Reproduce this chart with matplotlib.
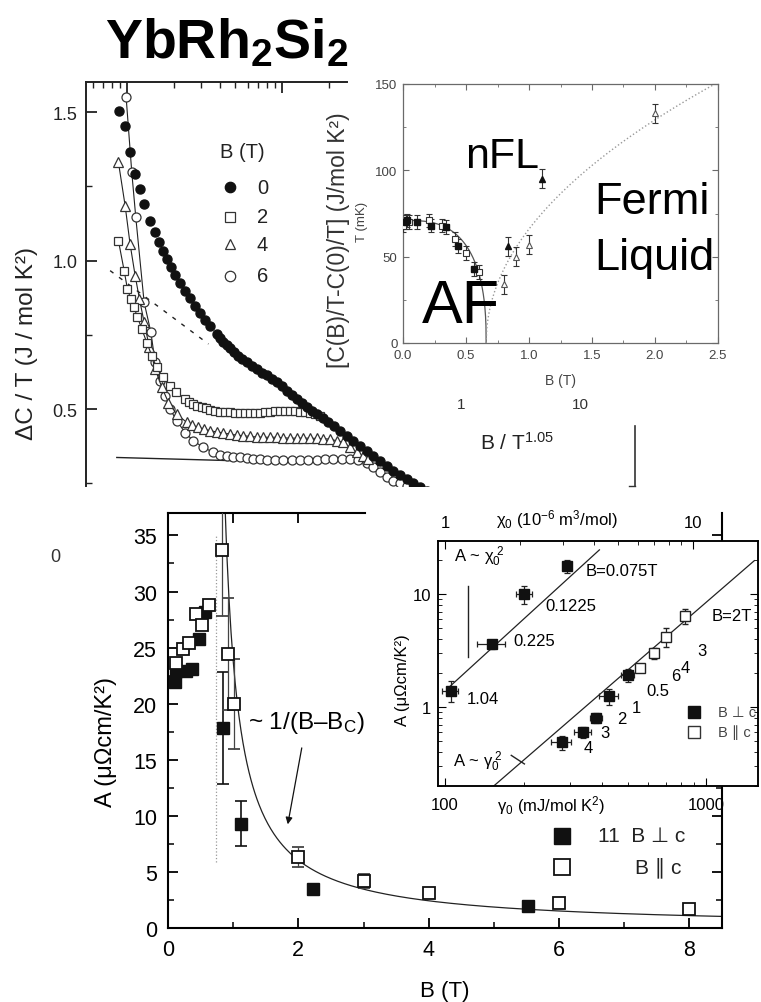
import numpy as np
import matplotlib
matplotlib.use('Agg')
import matplotlib.pyplot as plt
from matplotlib.lines import Line2D
from matplotlib.ticker import FixedLocator, MultipleLocator, NullFormatter, LogLocator

plt.rcParams['font.family'] = ['Liberation Sans', 'DejaVu Sans']
plt.rcParams['mathtext.fontset'] = 'custom'
plt.rcParams['mathtext.rm'] = 'Liberation Sans'
plt.rcParams['mathtext.it'] = 'Liberation Sans:italic'
plt.rcParams['mathtext.bf'] = 'Liberation Sans:bold'
plt.rcParams['axes.unicode_minus'] = False

# ---------------- specific heat: Delta C / T vs T (K), fields 0, 2, 4, 6 T ----------------
T_b0 = [0.0888, 0.0971, 0.1045, 0.1127, 0.1213, 0.1288, 0.1407, 0.1516, 0.1618, 0.1716,
        0.1803, 0.1914, 0.2042, 0.2198, 0.2366, 0.2548, 0.2745, 0.2956, 0.3184, 0.3429,
        0.3790, 0.398, 0.4188, 0.4395, 0.4628, 0.490, 0.5230, 0.5547, 0.5912, 0.637,
        0.6867, 0.739, 0.7966, 0.858, 0.9243, 0.995, 1.072, 1.154, 1.244, 1.339,
        1.443, 1.554, 1.674, 1.829, 1.991, 2.176, 2.367, 2.614, 2.885, 3.185,
        3.518, 3.884, 4.288, 4.735, 5.227, 5.771, 6.372, 7.037, 7.768, 8.577]
C_b0 = [1.504, 1.454, 1.366, 1.291, 1.241, 1.190, 1.134, 1.095, 1.061, 1.033,
        1.005, 0.977, 0.951, 0.924, 0.898, 0.873, 0.848, 0.823, 0.801, 0.781,
        0.753, 0.740, 0.727, 0.715, 0.704, 0.691, 0.680, 0.668, 0.657, 0.646,
        0.635, 0.623, 0.613, 0.601, 0.590, 0.576, 0.562, 0.547, 0.534, 0.520,
        0.506, 0.494, 0.483, 0.469, 0.455, 0.442, 0.427, 0.410, 0.393, 0.377,
        0.360, 0.343, 0.326, 0.309, 0.292, 0.278, 0.264, 0.251, 0.236, 0.225]

T_b2 = [0.0879, 0.0957, 0.1005, 0.1057, 0.1109, 0.1167, 0.1245, 0.1340, 0.1442, 0.1552,
        0.1714, 0.1892, 0.2080, 0.2366, 0.2512, 0.2679, 0.2843, 0.3034, 0.3218, 0.3428,
        0.3695, 0.3981, 0.4287, 0.4624, 0.4974, 0.5358, 0.5771, 0.6223, 0.6695, 0.7211,
        0.7767, 0.8375, 0.9013, 0.9705, 1.0457, 1.127, 1.2132, 1.306, 1.4075, 1.517,
        1.6329, 1.758]
C_b2 = [1.067, 0.966, 0.904, 0.870, 0.842, 0.809, 0.769, 0.724, 0.680, 0.640,
        0.607, 0.579, 0.556, 0.534, 0.525, 0.517, 0.511, 0.506, 0.502, 0.498,
        0.494, 0.491, 0.490, 0.489, 0.488, 0.487, 0.487, 0.487, 0.487, 0.487,
        0.489, 0.491, 0.493, 0.494, 0.494, 0.494, 0.493, 0.491, 0.489, 0.487,
        0.482, 0.475]

T_b4 = [0.0879, 0.0971, 0.1045, 0.1127, 0.1202, 0.1288, 0.1393, 0.1517, 0.1675, 0.1849,
        0.2089, 0.2427, 0.2639, 0.2884, 0.3139, 0.3428, 0.3789, 0.4188, 0.4619, 0.5105,
        0.5628, 0.6223, 0.6864, 0.7586, 0.8367, 0.9247, 1.020, 1.127, 1.243, 1.374,
        1.516, 1.675, 1.848, 2.042, 2.253, 2.489, 2.746, 3.034, 3.314, 3.606]
C_b4 = [1.331, 1.185, 1.056, 0.949, 0.870, 0.792, 0.708, 0.635, 0.573, 0.522,
        0.483, 0.455, 0.446, 0.438, 0.433, 0.427, 0.423, 0.419, 0.416, 0.412,
        0.410, 0.408, 0.406, 0.405, 0.405, 0.405, 0.403, 0.402, 0.402, 0.402,
        0.402, 0.401, 0.400, 0.399, 0.393, 0.388, 0.371, 0.354, 0.343, 0.332]

T_b6 = [0.0986, 0.1072, 0.1138, 0.1288, 0.1422, 0.1517, 0.1633, 0.1758, 0.1892, 0.2089,
        0.2366, 0.2679, 0.3105, 0.3606, 0.3981, 0.4395, 0.4853, 0.5358, 0.5916, 0.6531,
        0.7212, 0.7962, 0.9013, 1.021, 1.154, 1.306, 1.479, 1.675, 1.894, 2.143,
        2.426, 2.748, 3.108, 3.516, 3.884, 4.285, 4.735, 5.224, 5.771, 6.368,
        7.037, 7.762]
C_b6 = [1.549, 1.297, 1.145, 0.859, 0.760, 0.657, 0.595, 0.545, 0.500, 0.461,
        0.421, 0.393, 0.371, 0.354, 0.347, 0.343, 0.340, 0.337, 0.334, 0.332,
        0.331, 0.329, 0.328, 0.328, 0.328, 0.328, 0.328, 0.329, 0.331, 0.332,
        0.332, 0.332, 0.327, 0.320, 0.304, 0.287, 0.272, 0.259, 0.250, 0.242,
        0.233, 0.225]

field_labels = ['0', '2', '4', '6']
guide_dash_T = [0.0777, 0.335]
guide_dash_C = [0.966, 0.719]
guide_solid_T = [0.0858, 0.50]
guide_solid_C = [0.337, 0.326]

# ---------------- T-B phase diagram (mK vs T) ----------------
pd_fsq_B = [0.02, 0.03, 0.11, 0.22, 0.34, 0.44, 0.56]
pd_fsq_T = [70, 71, 70, 68, 67, 56, 43]
pd_osq_B = [0.0, 0.05, 0.21, 0.31, 0.41, 0.50, 0.60]
pd_osq_T = [68, 70, 71, 68, 60, 52, 41]
pd_ftri_B = [0.83, 1.10]
pd_ftri_T = [56, 95]
pd_otri_B = [0.80, 0.90, 1.00, 2.00]
pd_otri_T = [34, 50, 57, 133]
pd_sq_err = 4.0
pd_tri_err = 5.5
TN0, Bc_pd = 71.0, 0.66          # AF boundary model parameters
TFL_amp, TFL_exp = 112.0, 0.49   # Fermi-liquid crossover model parameters

# ---------------- A coefficient vs B ----------------
A_para_B = [0.12, 0.23, 0.32, 0.43, 0.52, 0.63, 0.83, 0.92, 1.01, 2.0, 3.0, 4.0, 6.0, 8.0]
A_para = [23.6, 24.9, 25.4, 28.0, 27.0, 28.8, 33.7, 24.4, 20.0, 6.3, 4.2, 3.1, 2.2, 1.7]
A_para_err = [0, 0, 0, 0, 0, 0, 5.9, 5.0, 4.0, 0.9, 0.6, 0, 0, 0]
A_perp_B = [0.10, 0.13, 0.27, 0.37, 0.47, 0.57, 0.85, 1.12, 2.22, 5.52]
A_perp = [21.9, 22.9, 22.9, 23.1, 25.8, 28.2, 17.8, 9.3, 3.5, 2.0]
A_perp_err = [0, 0, 0, 0, 0, 0, 5.0, 2.0, 0, 0]
fit_amp, fit_Bc = 8.1, 0.66      # A = fit_amp / (B - fit_Bc)
Bc_marker = 0.74

# ---------------- Kadowaki-Woods type scaling ----------------
chi_up = [3.11, 2.09, 1.54, 1.05]
A_up = [17.8, 10.0, 3.6, 1.4]
chi_up_err = [0.10, 0.15, 0.20, 0.08]
A_up_err = [2.3, 1.8, 0.3, 0.3]
field_up = ['B=0.075T', '0.1225', '0.225', '1.04']

gam_perp = [280, 338, 380, 423, 501]
A_gperp = [0.49, 0.60, 0.80, 1.25, 1.93]
gam_perp_err = [25, 25, 20, 35, 30]
A_gperp_err = [0.07, 0.07, 0.08, 0.2, 0.25]
gam_para = [558, 630, 699, 828]
A_gpara = [2.21, 3.0, 4.2, 6.4]
A_gpara_err = [0.15, 0.35, 0.8, 1.0]
chi_coef = 1.4        # A = chi_coef * chi0^2
gam_coef = 8.47e-6    # A = gam_coef * gamma0^2

# ================= figure =================
W, H = 761.0, 1003.0
fig = plt.figure(figsize=(W / 100, H / 100), dpi=100)


def px_rect(left, top, right, bottom):
    return [left / W, 1 - bottom / H, (right - left) / W, (bottom - top) / H]


def px_pt(x, y):
    return (x / W, 1 - y / H)


# ---- specific heat panel ----
ax1 = fig.add_axes(px_rect(86, 83, 440, 487))
ax1.set_xscale('log')
ax1.set_xlim(0.0543, 10.45)
ax1.set_ylim(0.241, 1.601)
ax1.spines['right'].set_visible(False)
ax1.spines['bottom'].set_visible(False)
ax1.spines['top'].set_bounds(0.0543, 2.62)
for s in ('top', 'left'):
    ax1.spines[s].set_linewidth(1.4)
    ax1.spines[s].set_color('#222')
ax1.xaxis.set_major_locator(FixedLocator([0.1, 1.0]))
ax1.xaxis.set_minor_locator(FixedLocator([0.06, 0.07, 0.08, 0.09, 0.2, 0.3, 0.4, 0.5,
                                          0.6, 0.7, 0.8, 0.9, 2.0]))
ax1.xaxis.set_major_formatter(NullFormatter())
ax1.xaxis.set_minor_formatter(NullFormatter())
ax1.tick_params(axis='x', which='both', direction='in', top=True, bottom=False,
                labeltop=False, labelbottom=False, color='#222')
ax1.tick_params(axis='x', which='major', length=8, width=1.3)
ax1.tick_params(axis='x', which='minor', length=4, width=1.0)
ax1.set_yticks([0.5, 1.0, 1.5], ['0.5', '1.0', '1.5'])
ax1.yaxis.set_minor_locator(MultipleLocator(0.25))
ax1.tick_params(axis='y', which='both', direction='in', left=True, right=False,
                labelsize=13, pad=6, color='#222', labelcolor='#222')
ax1.tick_params(axis='y', which='major', length=8, width=1.3)
ax1.tick_params(axis='y', which='minor', length=4, width=1.0)

ax1.plot(guide_dash_T, guide_dash_C, color='#222', lw=1.0, ls=(0, (3, 5)), zorder=2)
ax1.plot(guide_solid_T, guide_solid_C, color='#222', lw=1.0, zorder=2)
ax1.plot(T_b6, C_b6, ls='-', lw=0.8, color='#222', marker='o', ms=6.5, mfc='white',
         mec='#333', mew=0.9, zorder=3)
ax1.plot(T_b4, C_b4, ls='-', lw=0.8, color='#222', marker='^', ms=6.5, mfc='white',
         mec='#333', mew=0.9, zorder=3)
ax1.plot(T_b2, C_b2, ls='-', lw=0.8, color='#222', marker='s', ms=6.0, mfc='white',
         mec='#333', mew=0.9, zorder=3)
ax1.plot(T_b0, C_b0, ls='none', marker='o', ms=6.5, mfc='#111', mec='#111', zorder=4)

ax1.text(0.441, 0.829, 'B (T)', transform=ax1.transAxes, ha='center', va='center',
         fontsize=14.5, color='#222')
leg_rows = [0.740, 0.666, 0.599, 0.520]
leg_styles = [dict(marker='o', mfc='#111', mec='#111'),
              dict(marker='s', mfc='white', mec='#333'),
              dict(marker='^', mfc='white', mec='#333'),
              dict(marker='o', mfc='white', mec='#333')]
for yy, st, lab in zip(leg_rows, leg_styles, field_labels):
    ax1.plot([0.407], [yy], transform=ax1.transAxes, ls='none', ms=7.5, mew=0.9,
             clip_on=False, **st)
    ax1.text(0.483, yy, lab, transform=ax1.transAxes, ha='left', va='center',
             fontsize=14.5, color='#222')

fig.text(*px_pt(27, 344), 'ΔC / T (J / mol K²)', rotation=90, ha='center',
         va='center', fontsize=17.5, color='#222')
fig.text(*px_pt(338, 240), '[C(B)/T-C(0)/T] (J/mol K²)', rotation=90, ha='center',
         va='center', fontsize=16.5, color='#333')

# ---- phase diagram inset ----
gray = '#6a6a6a'
ax2 = fig.add_axes(px_rect(403, 85, 718, 344))
ax2.set_xlim(0, 2.5)
ax2.set_ylim(0, 150)
for s in ax2.spines.values():
    s.set_color(gray)
    s.set_linewidth(0.9)
ax2.set_xticks(np.arange(0, 2.51, 0.5))
ax2.xaxis.set_minor_locator(MultipleLocator(0.25))
ax2.set_yticks([0, 50, 100, 150])
ax2.yaxis.set_minor_locator(MultipleLocator(25))
ax2.tick_params(which='both', direction='in', top=True, right=True, colors=gray,
                labelsize=9.5, labelcolor='#444')
ax2.tick_params(which='major', length=4, pad=4)
ax2.tick_params(which='minor', length=2.5)
ax2.set_xlabel('B (T)', fontsize=10, color='#444', labelpad=9)

B_af = np.linspace(0, Bc_pd, 400)
T_af = TN0 * (1 - (B_af / Bc_pd) ** 3) ** 0.4
B_fl = np.linspace(Bc_pd, 2.5, 400)
T_fl = TFL_amp * (B_fl - Bc_pd) ** TFL_exp
ax2.plot(B_af, T_af, color='#555', lw=0.9, zorder=2)
ax2.plot(B_fl, T_fl, color='#999', lw=1.0, ls=':', zorder=2)
eb = dict(ecolor='#333', elinewidth=0.8, capsize=2, capthick=0.8, ls='none', zorder=3)
ax2.errorbar(pd_osq_B, pd_osq_T, yerr=pd_sq_err, fmt='s', ms=4, mfc='white', mec='#333',
             mew=0.8, **eb)
ax2.errorbar(pd_fsq_B, pd_fsq_T, yerr=pd_sq_err, fmt='s', ms=4, mfc='#111', mec='#111', **eb)
ax2.errorbar(pd_otri_B, pd_otri_T, yerr=pd_tri_err, fmt='^', ms=4.5, mfc='white',
             mec='#555', mew=0.8, **eb)
ax2.errorbar(pd_ftri_B, pd_ftri_T, yerr=pd_tri_err, fmt='^', ms=4.5, mfc='#111',
             mec='#111', **eb)
ax2.text(0.49, 102, 'nFL', fontsize=31, ha='left', va='baseline', zorder=5)
ax2.text(1.52, 75, 'Fermi', fontsize=32.5, ha='left', va='baseline', zorder=5)
ax2.text(1.52, 43, 'Liquid', fontsize=32.5, ha='left', va='baseline', zorder=5)
ax2.text(0.15, 12, 'AF', fontsize=44, ha='left', va='baseline', zorder=5)
fig.text(*px_pt(362, 222), 'T (mK)', rotation=90, ha='center', va='center',
         fontsize=9.5, color='#444')

# fragments of scaling axis
fig.text(*px_pt(461, 405), '1', ha='center', va='center', fontsize=11, color='#333')
fig.text(*px_pt(580, 405), '10', ha='center', va='center', fontsize=11, color='#333')
fig.text(*px_pt(480, 443), 'B / T$^{1.05}$', ha='left', va='center', fontsize=15,
         color='#222')
fig.add_artist(Line2D([635 / W, 635 / W], [1 - 427 / H, 1 - 487 / H], color='#333', lw=1.2))
fig.add_artist(Line2D([629 / W, 635 / W], [1 - 487 / H, 1 - 487 / H], color='#333', lw=1.0))
fig.text(*px_pt(55, 558), '0', ha='center', va='center', fontsize=13, color='#333')

# ---- A vs B panel ----
ax3 = fig.add_axes(px_rect(168, 514, 722, 929))
ax3.set_xlim(0, 8.5)
ax3.set_ylim(0, 37)
ax3.spines['top'].set_bounds(0, 3.02)
for s in ax3.spines.values():
    s.set_linewidth(1.5)
ax3.set_xticks([0, 2, 4, 6, 8])
ax3.xaxis.set_minor_locator(MultipleLocator(1))
ax3.set_yticks(list(range(0, 36, 5)))
ax3.yaxis.set_minor_locator(MultipleLocator(2.5))
ax3.tick_params(which='both', direction='in', right=True, top=False, labelsize=15.5)
ax3.tick_params(which='major', length=7, width=1.3, pad=8)
ax3.tick_params(which='minor', length=4, width=1.1)
top3 = ax3.secondary_xaxis('top')
top3.set_xticks([1, 2])
top3.set_xticklabels([])
top3.tick_params(direction='in', length=7, width=1.3)
top3.spines['top'].set_visible(False)
ax3.set_xlabel('B (T)', fontsize=16, labelpad=14)
fig.text(*px_pt(106, 742), 'A (μΩcm/K²)', rotation=90, ha='center', va='center',
         fontsize=17)

B_fit = np.linspace(fit_Bc + fit_amp / 37.5, 8.5, 500)
A_fit = fit_amp / (B_fit - fit_Bc)
ax3.plot(B_fit, A_fit, color='#222', lw=0.9, zorder=2)
ax3.plot([Bc_marker, Bc_marker], [5.9, 35.0], color='#999', lw=0.9, ls=':', zorder=1)
ax3.errorbar(A_para_B, A_para, yerr=A_para_err, fmt='s', ms=9, mfc='white', mec='#111',
             mew=1.3, ecolor='#444', elinewidth=0.9, capsize=4, capthick=0.9, zorder=4)
ax3.errorbar(A_perp_B, A_perp, yerr=A_perp_err, fmt='s', ms=9, mfc='#111', mec='#111',
             ecolor='#111', elinewidth=1.2, capsize=4, capthick=1.2, zorder=3)
ax3.text(1.23, 18.4, '~ 1/(B–B$_{\\rm C}$)', fontsize=17.5, ha='left', va='center')
ax3.annotate('', xy=(1.83, 9.0), xytext=(2.06, 16.3),
             arrowprops=dict(arrowstyle='-|>', color='#111', lw=0.9, mutation_scale=10))
ax3.plot([0.711], [0.222], 's', transform=ax3.transAxes, ms=11, mfc='#111', mec='#111',
         clip_on=False)
ax3.plot([0.711], [0.147], 's', transform=ax3.transAxes, ms=11, mfc='white', mec='#111',
         mew=1.3, clip_on=False)
ax3.text(0.776, 0.222, '11  B ⊥ c', transform=ax3.transAxes, fontsize=15, ha='left',
         va='center', color='#222')
ax3.text(0.843, 0.147, 'B ∥ c', transform=ax3.transAxes, fontsize=15, ha='left',
         va='center', color='#222')

# ---- scaling inset ----
ax4 = fig.add_axes(px_rect(438, 542, 758, 787))
ax4.set_xscale('log')
ax4.set_yscale('log')
ax4.set_xlim(94, 1580)
ax4.set_ylim(0.2, 29.6)
ax4t = ax4.twiny()
ax4t.set_xscale('log')
ax4t.set_xlim(0.934, 18.4)
for a in (ax4, ax4t):
    for s in a.spines.values():
        s.set_linewidth(1.1)
ax4.set_xticks([100, 1000], ['100', '1000'])
ax4.set_yticks([1, 10], ['1', '10'])
ax4.xaxis.set_minor_locator(LogLocator(base=10, subs=np.arange(2, 10)))
ax4.yaxis.set_minor_locator(LogLocator(base=10, subs=np.arange(2, 10)))
ax4.xaxis.set_minor_formatter(NullFormatter())
ax4.yaxis.set_minor_formatter(NullFormatter())
ax4.tick_params(which='both', direction='in', left=True, right=True, bottom=True,
                top=False, labelsize=12)
ax4.tick_params(axis='x', which='major', pad=8)
ax4.tick_params(axis='y', which='major', pad=5)
ax4.tick_params(which='major', length=6)
ax4.tick_params(which='minor', length=3)
ax4t.set_xticks([1, 10], ['1', '10'])
ax4t.xaxis.set_minor_locator(LogLocator(base=10, subs=np.arange(2, 10)))
ax4t.xaxis.set_minor_formatter(NullFormatter())
ax4t.tick_params(which='both', direction='in', labelsize=12, pad=8)
ax4t.tick_params(which='major', length=6)
ax4t.tick_params(which='minor', length=3)

chi_line = np.array([1.03, 4.2])
ax4t.plot(chi_line, chi_coef * chi_line ** 2, color='#222', lw=0.9, zorder=2)
gam_line = np.array([154.0, 1530.0])
ax4.plot(gam_line, gam_coef * gam_line ** 2, color='#222', lw=0.9, zorder=2)
ebk = dict(ecolor='#222', elinewidth=0.9, capsize=2.5, capthick=0.9, ls='none', zorder=3)
ax4t.errorbar(chi_up, A_up, xerr=chi_up_err, yerr=A_up_err, fmt='s', ms=7, mfc='#111',
              mec='#111', **ebk)
ax4.errorbar(gam_perp, A_gperp, xerr=gam_perp_err, yerr=A_gperp_err, fmt='s', ms=7,
             mfc='#111', mec='#111', **ebk)
ax4.errorbar(gam_para, A_gpara, yerr=A_gpara_err, fmt='s', ms=7, mfc='white', mec='#222',
             mew=1.0, **ebk)

tx = dict(transform=ax4.transAxes, fontsize=12, ha='left', va='center')
ax4.text(0.05, 0.94, 'A ~ χ$_0^{\\ 2}$', **tx)
ax4.text(0.461, 0.878, field_up[0], **tx)
ax4.text(0.337, 0.738, field_up[1], **tx)
ax4.text(0.234, 0.593, field_up[2], **tx)
ax4.text(0.09, 0.356, field_up[3], **tx)
ax4.text(0.855, 0.695, 'B=2T', **tx)
ax4.text(0.811, 0.552, '3', **tx)
ax4.text(0.758, 0.484, '4', **tx)
ax4.text(0.729, 0.45, '6', **tx)
ax4.text(0.652, 0.39, '0.5', **tx)
ax4.text(0.605, 0.322, '1', **tx)
ax4.text(0.559, 0.274, '2', **tx)
ax4.text(0.508, 0.22, '3', **tx)
ax4.text(0.454, 0.159, '4', **tx)
ax4.text(0.048, 0.104, 'A ~ γ$_0^{\\ 2}$', **tx)
ax4.plot([0.229, 0.27], [0.125, 0.09], color='#222', lw=1.0, transform=ax4.transAxes)
ax4.plot([0.095, 0.095], [0.817, 0.525], color='#222', lw=1.0, transform=ax4.transAxes)
ax4.plot([0.80], [0.302], 's', transform=ax4.transAxes, ms=8, mfc='#111', mec='#111')
ax4.plot([0.80], [0.22], 's', transform=ax4.transAxes, ms=8, mfc='white', mec='#333',
         mew=1.0)
ax4.text(0.875, 0.302, 'B ⊥ c', transform=ax4.transAxes, fontsize=10.5, ha='left',
         va='center', color='#444')
ax4.text(0.875, 0.22, 'B ∥ c', transform=ax4.transAxes, fontsize=10.5, ha='left',
         va='center', color='#444')
ax4.text(0.353, -0.075, 'γ$_0$ (mJ/mol K$^2$)', transform=ax4.transAxes, fontsize=12,
         ha='center', va='center', clip_on=False)
ax4.text(0.373, 1.09, 'χ$_0$ (10$^{-6}$ m$^3$/mol)', transform=ax4.transAxes, fontsize=12,
         ha='center', va='center', clip_on=False)
fig.text(*px_pt(403, 680), 'A (μΩcm/K²)', rotation=90, ha='center', va='center',
         fontsize=12)

# ---- title ----
fig.text(*px_pt(105, 58), r'$\mathbf{YbRh_2Si_2}$', fontsize=40, ha='left',
         va='baseline')

fig.savefig('out.png', dpi=100)
